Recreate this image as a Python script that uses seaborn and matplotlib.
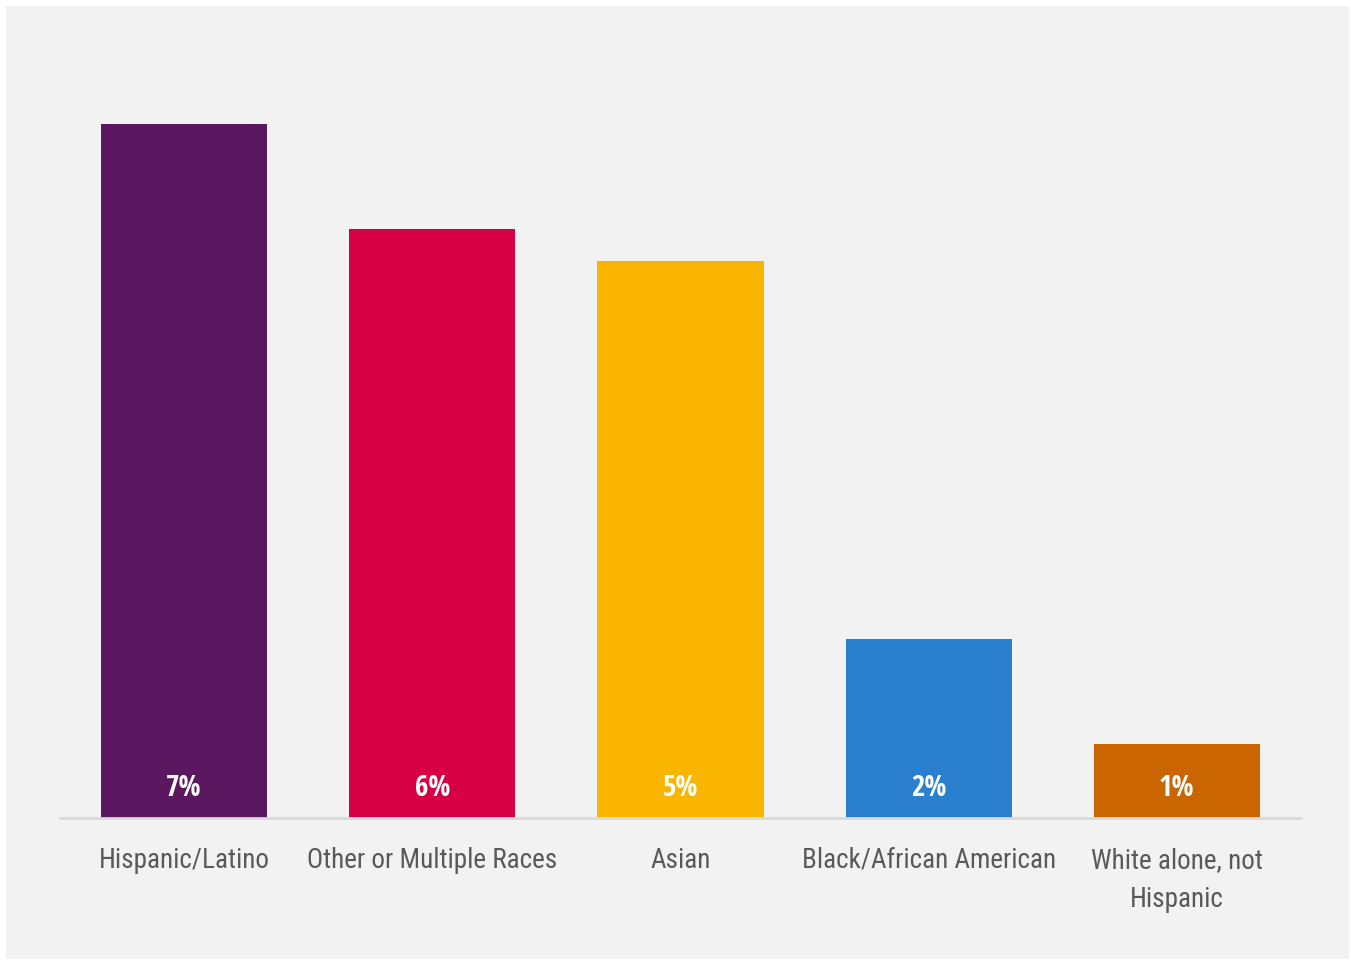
import matplotlib
matplotlib.use("Agg")
import matplotlib.pyplot as plt
from matplotlib.patches import Rectangle
import seaborn as sns
import pandas as pd

categories = ["Hispanic/Latino", "Other or Multiple Races", "Asian",
              "Black/African American", "White alone, not\nHispanic"]
shares = [6.6, 5.6, 5.3, 1.7, 0.7]
colors = ["#5B1760", "#D80044", "#F9B500", "#2A80CE", "#CB6500"]

df = pd.DataFrame({"group": categories, "share": shares})

sns.set_theme(style="white")
plt.rcParams["font.family"] = ["Roboto Condensed", "DejaVu Sans"]

W, H = 1351, 962
fig = plt.figure(figsize=(W / 100, H / 100), dpi=100, facecolor="white")
fig.patches.append(Rectangle((6 / W, 2 / H), 1343 / W, 953 / H,
                             transform=fig.transFigure, facecolor="#F2F2F2",
                             edgecolor="none", zorder=-5))

base_px, top_px = 819, 40
ax = fig.add_axes([60 / W, (H - base_px) / H, 1241 / W, (base_px - top_px) / H])
ax.set_facecolor("none")
ax.set_zorder(2)

sns.barplot(data=df, x="group", y="share", hue="group", palette=colors,
            width=0.67, saturation=1, linewidth=0, legend=False, ax=ax)

ax.set_xlim(-0.5, len(categories) - 0.5)
ax.set_ylim(0, (base_px - top_px) / 105.15)
ax.set_xlabel("")
ax.set_ylabel("")
ax.set_yticks([])
for side in ["top", "right", "left"]:
    ax.spines[side].set_visible(False)
ax.spines["bottom"].set_color("#D9D9D9")
ax.spines["bottom"].set_linewidth(2)
ax.tick_params(axis="x", length=0, pad=20, labelsize=19.5, labelcolor="#595959")
for lbl in ax.get_xticklabels():
    lbl.set_linespacing(1.6)
    lbl.set_fontweight("normal")

for i, v in enumerate(shares):
    ax.annotate(f"{v:.0f}%", xy=(i, 0), xytext=(0, 22), textcoords="offset points",
                ha="center", va="center", color="white", fontsize=21,
                fontweight="bold",
                family=["Open Sans Condensed", "Roboto Condensed", "DejaVu Sans"])

fig.savefig("out.png", dpi=100, facecolor="white")
